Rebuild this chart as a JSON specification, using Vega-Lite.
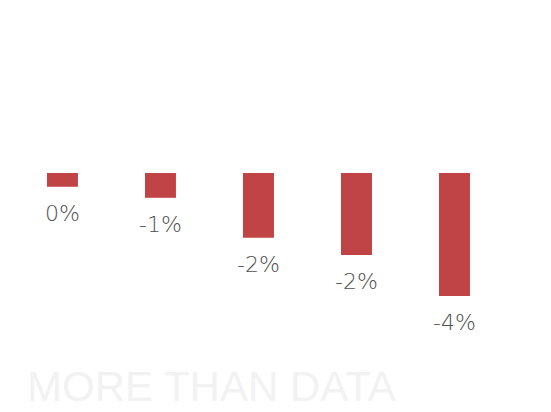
{
  "$schema": "https://vega.github.io/schema/vega-lite/v6.json",
  "width": 551,
  "height": 360,
  "padding": 0,
  "background": "white",
  "config": {"view": {"stroke": null}},
  "title": {
    "text": "MORE THAN DATA",
    "orient": "bottom",
    "anchor": "start",
    "dx": 27,
    "offset": 8,
    "font": "Liberation Sans",
    "fontSize": 42,
    "fontWeight": "normal",
    "color": "#f2f2f2"
  },
  "data": {
    "values": [
      {"category": "A", "value": -0.41, "label": "0%"},
      {"category": "B", "value": -0.74, "label": "-1%"},
      {"category": "C", "value": -1.93, "label": "-2%"},
      {"category": "D", "value": -2.45, "label": "-2%"},
      {"category": "E", "value": -3.67, "label": "-4%"}
    ]
  },
  "encoding": {
    "x": {
      "field": "category",
      "type": "nominal",
      "axis": null,
      "scale": {"paddingInner": 0.684, "paddingOuter": 0.653, "align": 0.367}
    },
    "y": {
      "field": "value",
      "type": "quantitative",
      "axis": null,
      "scale": {"domain": [-5.582, 5.164], "nice": false, "zero": false}
    }
  },
  "layer": [
    {
      "mark": {"type": "bar", "color": "#c04346"},
      "encoding": {"y2": {"datum": 0}}
    },
    {
      "mark": {
        "type": "text",
        "baseline": "top",
        "dy": 17,
        "font": "DejaVu Sans",
        "fontWeight": 200,
        "fontSize": 22,
        "color": "#4f4f4f"
      },
      "encoding": {"text": {"field": "label"}}
    }
  ]
}
